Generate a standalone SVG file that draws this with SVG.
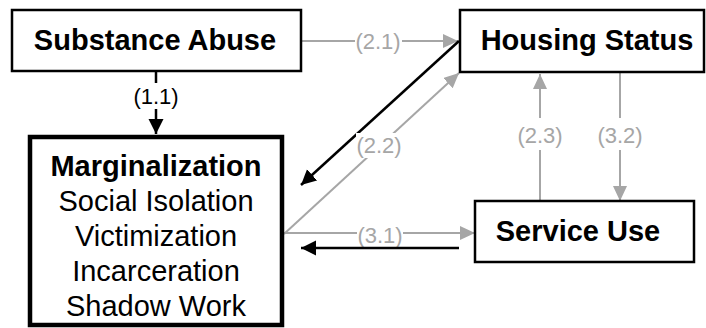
<svg xmlns="http://www.w3.org/2000/svg" width="706" height="328" viewBox="0 0 706 328">
  <defs>
    <marker id="arrow-black" markerUnits="userSpaceOnUse" markerWidth="16" markerHeight="16" refX="15" refY="7.5" orient="auto">
      <path d="M0,0 L15,7.5 L0,15 z" fill="#000"/>
    </marker>
    <marker id="arrow-grey" markerUnits="userSpaceOnUse" markerWidth="16" markerHeight="16" refX="15" refY="7" orient="auto">
      <path d="M0,0 L15,7 L0,14 z" fill="#a6a6a6"/>
    </marker>
  </defs>
  <style>
    .box { fill: #fff; stroke: #000; stroke-width: 2.5; }
    .box-main { fill: #fff; stroke: #000; stroke-width: 4.5; }
    .title { font-family: "Liberation Sans", Arial, sans-serif; font-size: 29px; font-weight: bold; fill: #000; text-anchor: middle; }
    .item { font-family: "Liberation Sans", Arial, sans-serif; font-size: 29px; fill: #000; text-anchor: middle; }
    .link-black { fill: none; stroke: #000; stroke-width: 2.5; }
    .link-grey { fill: none; stroke: #a6a6a6; stroke-width: 2; }
    .label { font-family: "Liberation Sans", Arial, sans-serif; font-size: 22px; text-anchor: middle; }
    .label-grey { fill: #a6a6a6; }
    .label-black { fill: #000; }
    .label-bg { fill: #fff; }
  </style>

  <rect width="706" height="328" fill="#fff"/>

  <g id="connectors">
    <!-- 1.1 Substance Abuse -> Marginalization -->
    <line class="link-black" x1="156" y1="71" x2="156" y2="134" marker-end="url(#arrow-black)"/>
    <rect class="label-bg" x="132" y="83" width="48" height="26"/>
    <text class="label label-black" x="156" y="104">(1.1)</text>

    <!-- 2.1 Substance Abuse -> Housing Status -->
    <line class="link-grey" x1="302" y1="41" x2="458" y2="41" marker-end="url(#arrow-grey)"/>
    <rect class="label-bg" x="355" y="30" width="47" height="24"/>
    <text class="label label-grey" x="378" y="49">(2.1)</text>

    <!-- Housing Status -> Marginalization -->
    <line class="link-black" x1="459" y1="41" x2="301" y2="185" marker-end="url(#arrow-black)"/>

    <!-- 2.2 Marginalization -> Housing Status -->
    <line class="link-grey" x1="284" y1="234" x2="459" y2="73" marker-end="url(#arrow-grey)"/>
    <rect class="label-bg" x="356" y="133" width="46" height="25"/>
    <text class="label label-grey" x="379" y="153">(2.2)</text>

    <!-- 3.1 Marginalization -> Service Use -->
    <line class="link-grey" x1="284" y1="233" x2="475" y2="233" marker-end="url(#arrow-grey)"/>
    <rect class="label-bg" x="357" y="223" width="46" height="24"/>
    <text class="label label-grey" x="380" y="243">(3.1)</text>

    <!-- Service Use -> Marginalization -->
    <line class="link-black" x1="459" y1="248" x2="301" y2="248" marker-end="url(#arrow-black)"/>

    <!-- 2.3 Service Use -> Housing Status -->
    <line class="link-grey" x1="540" y1="201" x2="540" y2="74" marker-end="url(#arrow-grey)"/>
    <rect class="label-bg" x="517" y="118" width="46" height="32"/>
    <text class="label label-grey" x="540" y="143">(2.3)</text>

    <!-- 3.2 Housing Status -> Service Use -->
    <line class="link-grey" x1="620" y1="73" x2="620" y2="201" marker-end="url(#arrow-grey)"/>
    <rect class="label-bg" x="597" y="118" width="46" height="32"/>
    <text class="label label-grey" x="620" y="143">(3.2)</text>
  </g>

  <g id="substance-abuse">
    <rect class="box" x="12" y="10" width="289" height="61"/>
    <text class="title" x="155" y="50">Substance Abuse</text>
  </g>

  <g id="housing-status">
    <rect class="box" x="460" y="10" width="244" height="62"/>
    <text class="title" x="587" y="50">Housing Status</text>
  </g>

  <g id="service-use">
    <rect class="box" x="475" y="201" width="219" height="61"/>
    <text class="title" x="578" y="241">Service Use</text>
  </g>

  <g id="marginalization">
    <rect class="box-main" x="30" y="137" width="252" height="188"/>
    <text class="title" x="156" y="176">Marginalization</text>
    <text class="item" x="156" y="211">Social Isolation</text>
    <text class="item" x="156" y="246">Victimization</text>
    <text class="item" x="156" y="281">Incarceration</text>
    <text class="item" x="156" y="316">Shadow Work</text>
  </g>
</svg>
